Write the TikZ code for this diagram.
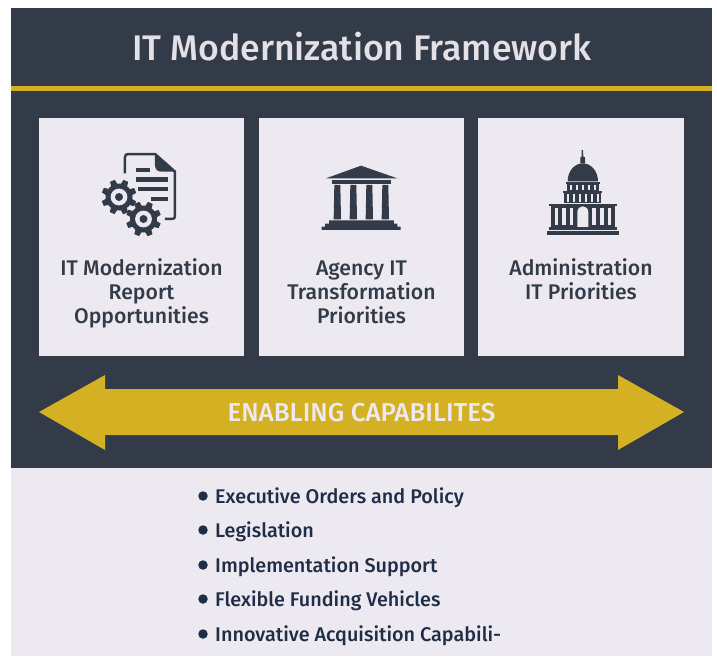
\documentclass[tikz,border=0pt]{standalone}
\usepackage{fontspec}
\setmainfont{Fira Sans Medium}
\definecolor{panel}{HTML}{333B49}
\definecolor{gold}{HTML}{D4B122}
\definecolor{pale}{HTML}{EDE9F0}
\definecolor{navy}{HTML}{1F2D46}
\definecolor{titlecol}{HTML}{E3E0E6}
\tikzset{
  card/.style={fill=pale},
  cardtext/.style={text=panel,font=\fontsize{21.2}{24}\selectfont,align=center,anchor=north,inner sep=0pt},
  listitem/.style={text=navy,font=\fontsize{19.8}{23}\selectfont,anchor=base west,inner sep=0pt},
  dot/.style={fill=navy,circle,minimum size=9.5pt,inner sep=0pt},
}
\newcommand{\gear}[2]{%
  \begin{scope}[shift={(#1,#2)}]
    \foreach \a in {0,45,...,315}
      \fill[panel,rotate=\a+22] (-5.2,0) -- (-2.6,-17.5) -- (2.6,-17.5) -- (5.2,0) -- cycle;
    \fill[panel] (0,0) circle (13.5);
    \fill[pale] (0,0) circle (8.4);
    \fill[panel] (0,0) circle (4);
  \end{scope}}
\begin{document}
\begin{tikzpicture}[x=1pt,y=-1pt]
\useasboundingbox (0,0) rectangle (717,656);
\fill[white] (0,0) rectangle (717,656);
\fill[panel] (11,8) rectangle (712,468);
\fill[pale] (11,468) rectangle (712,656);
\fill[gold] (11,86) rectangle (712,91);
\node[text=titlecol,font=\fontsize{35.6}{40}\selectfont,inner sep=0pt] (title) at (362,47) {IT Modernization Framework};
\fill[card] (39,118) rectangle (244,356);
\fill[card] (259,118) rectangle (464,356);
\fill[card] (478,118) rectangle (684,356);
\node[cardtext] (c1) at (141.5,258.5) {IT Modernization\\Report\\Opportunities};
\node[cardtext] (c2) at (361.5,260.5) {Agency IT\\Transformation\\Priorities};
\node[cardtext] (c3) at (581,258.5) {Administration\\IT Priorities};
% arrow
\fill[gold] (39,412) -- (105,375) -- (105,389) -- (618,389) -- (618,375) -- (684,412) -- (618,450) -- (618,435) -- (105,435) -- (105,450) -- cycle;
\node[text=pale,font=\fontsize{25.9}{30}\selectfont,inner sep=0pt] (en) at (361.5,412.5) {ENABLING CAPABILITES};
% document icon
\begin{scope}[shift={(80,130)},x=0.3333pt,y=-0.3333pt]
  \draw[panel,line width=2.5pt,line join=round] (135,130) -- (135,82) .. controls (135,75) and (138,72) .. (145,72) -- (225,72) -- (285,125) -- (285,258) .. controls (285,264) and (282,267) .. (276,267) -- (255,267);
  \fill[panel] (225,72) -- (285,125) -- (245,125) .. controls (232,125) and (225,118) .. (225,105) -- cycle;
  \fill[panel] (167,114) rectangle (210,127);
  \fill[panel] (167,142) rectangle (265,155);
  \fill[panel] (175,171) rectangle (265,184);
  \fill[panel] (212,200) rectangle (265,214);
\end{scope}
\gear{119}{197}
\gear{143.5}{219}
% temple icon
\begin{scope}[shift={(300,140)},x=0.3333pt,y=-0.3333pt]
  \fill[panel] (78,115) -- (183,77) -- (292,115) -- cycle;
  \fill[panel] (95,120) rectangle (274,132);
  \foreach \c in {112,160,208,256}
    \fill[panel] (\c-9,135) -- (\c+9,135) -- (\c+11,238) -- (\c-11,238) -- cycle;
  \fill[panel] (87,241) -- (282,241) -- (282,251) -- (292,251) -- (292,260) -- (302,260) -- (302,270) -- (65,270) -- (65,260) -- (75,260) -- (75,251) -- (87,251) -- cycle;
\end{scope}
% capitol icon
\begin{scope}[shift={(520,140)},x=0.3333pt,y=-0.3333pt]
  \fill[panel] (185,30) -- (189,30) -- (190,50) -- (195,52) -- (195,70) -- (181,70) -- (181,52) -- (185,50) -- cycle;
  \fill[panel] (143,124) .. controls (143,92) and (165,70) .. (188,70) .. controls (212,70) and (234,92) .. (234,124) -- cycle;
  \fill[panel] (137,126) rectangle (240,131);
  \fill[panel] (140,131) rectangle (236,152);
  \foreach \c in {153,171,188,206,224}
    \fill[pale] (\c-3.5,136) rectangle (\c+3.5,151);
  \fill[panel] (130,153) rectangle (247,158);
  \fill[panel] (133,158) rectangle (243,188);
  \foreach \c in {144,162,180,198,216,234}
    \fill[pale] (\c-4,161) rectangle (\c+4,186);
  \fill[panel] (87,192) rectangle (290,198);
  \fill[panel] (92,198) rectangle (285,262);
  \foreach \c in {110,132,155,222,246,269}
    \fill[pale] (\c-5,205) rectangle (\c+5,255);
  \fill[pale] (172,262) -- (172,217) .. controls (172,205) and (180,199) .. (188.5,199) .. controls (197,199) and (205,205) .. (205,217) -- (205,262) -- cycle;
  \fill[panel] (86,262) rectangle (290,269);
  \fill[panel] (81,272) rectangle (297,286);
\end{scope}
% list
\node[dot] (d1) at (203,496) {};
\node[dot] (d2) at (203,530) {};
\node[dot] (d3) at (203,565) {};
\node[dot] (d4) at (203,599) {};
\node[dot] (d5) at (203,634) {};
\node[listitem] (l1) at (215,503) {Executive Orders and Policy};
\node[listitem] (l2) at (215,537) {Legislation};
\node[listitem] (l3) at (215,572) {Implementation Support};
\node[listitem] (l4) at (215,606) {Flexible Funding Vehicles};
\node[listitem] (l5) at (215,641) {Innovative Acquisition Capabili-};
\end{tikzpicture}
\end{document}
